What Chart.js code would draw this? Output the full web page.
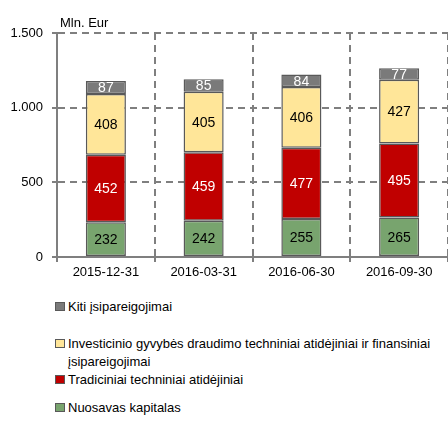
<!DOCTYPE html>
<html>
<head>
<meta charset="utf-8">
<script src="https://cdn.jsdelivr.net/npm/chart.js@4.4.1/dist/chart.umd.min.js"></script>
<style>
  html,body{margin:0;padding:0;background:#fff;}
  body{width:448px;height:421px;position:relative;overflow:hidden;font-family:"Liberation Sans",Arial,sans-serif;}
  #wrap{position:absolute;left:0;top:0;width:448px;height:285px;}
  #unit{position:absolute;left:60px;top:14px;font-size:13px;line-height:18px;color:#000;}
  .leg{position:absolute;left:55px;font-size:13px;line-height:18px;color:#000;padding-left:13px;width:372px;}
  .leg i{position:absolute;left:0;top:4px;width:8px;height:7px;border:1px solid #595959;}
</style>
</head>
<body>
<div id="wrap"><canvas id="chart"></canvas></div>
<div id="unit">Mln. Eur</div>
<div id="legend"></div>
<script>
const categories = ['2015-12-31','2016-03-31','2016-06-30','2016-09-30'];
const nuosavas = [232,242,255,265];
const tradiciniai = [452,459,477,495];
const investicinio = [408,405,406,427];
const kiti = [87,85,84,77];
const yTicks = [0,500,1000,1500];

const series = [
  {label:'Nuosavas kapitalas', data:nuosavas, color:'#78a46e', text:'#000'},
  {label:'Tradiciniai techniniai atidėjiniai', data:tradiciniai, color:'#c00000', text:'#fff'},
  {label:'Investicinio gyvybės draudimo techniniai atidėjiniai ir finansiniai įsipareigojimai', data:investicinio, color:'#ffe699', text:'#000'},
  {label:'Kiti įsipareigojimai', data:kiti, color:'#7a7a7a', text:'#fff'}
];

// values written in the middle of each segment
const segmentLabels = {
  id:'segmentLabels',
  afterDatasetsDraw(chart){
    const ctx = chart.ctx;
    ctx.save();
    ctx.font = '14px "Liberation Sans", Arial, sans-serif';
    ctx.textAlign = 'center';
    ctx.textBaseline = 'middle';
    chart.data.datasets.forEach((ds, i)=>{
      const meta = chart.getDatasetMeta(i);
      meta.data.forEach((bar, j)=>{
        const p = bar.getProps(['x','y','base'], true);
        ctx.fillStyle = series[i].text;
        ctx.fillText(String(ds.data[j]), p.x, (p.y + p.base)/2 + 1);
      });
    });
    ctx.restore();
  }
};

function fmt(v){
  return String(v).replace(/\B(?=(\d{3})+(?!\d))/g, '.');
}

const axisFont = {size:13, family:'"Liberation Sans", Arial, sans-serif'};

new Chart(document.getElementById('chart'), {
  type:'bar',
  data:{
    labels:categories,
    datasets:series.map(s=>({
      label:s.label, data:s.data, backgroundColor:s.color,
      borderColor:'#595959', borderWidth:1.5, borderSkipped:false,
      barPercentage:0.41, categoryPercentage:1
    }))
  },
  options:{
    responsive:true,
    maintainAspectRatio:false,
    animation:false,
    layout:{padding:{top:33,right:0,left:0,bottom:0}},
    plugins:{legend:{display:false}, tooltip:{enabled:false}},
    scales:{
      x:{
        stacked:true,
        grid:{color:'#7f7f7f', lineWidth:2, tickLength:5, offset:true},
        border:{color:'#7f7f7f', width:2, dash:[7,5]},
        ticks:{color:'#000', font:axisFont, padding:3, maxRotation:0},
        afterFit(s){ s.height = 28; }
      },
      y:{
        stacked:true, min:0, max:1500,
        afterBuildTicks(s){ s.ticks = yTicks.map(v=>({value:v})); },
        grid:{color:'#7f7f7f', lineWidth:2, tickLength:5, tickBorderDash:[], tickColor:'#7f7f7f'},
        border:{color:'#7f7f7f', width:2, dash:[7,5]},
        ticks:{color:'#000', font:axisFont, padding:9, callback:v=>fmt(v)},
        afterFit(s){ s.width = 57; }
      }
    }
  },
  plugins:[segmentLabels]
});

// legend below the chart, top item first
const legendTops = [298, 335, 371, 399];
const legendEl = document.getElementById('legend');
series.slice().reverse().forEach((s, k)=>{
  const d = document.createElement('div');
  d.className = 'leg';
  d.style.top = legendTops[k] + 'px';
  const m = document.createElement('i');
  m.style.background = s.color;
  d.appendChild(m);
  d.appendChild(document.createTextNode(s.label));
  legendEl.appendChild(d);
});
</script>
</body>
</html>
